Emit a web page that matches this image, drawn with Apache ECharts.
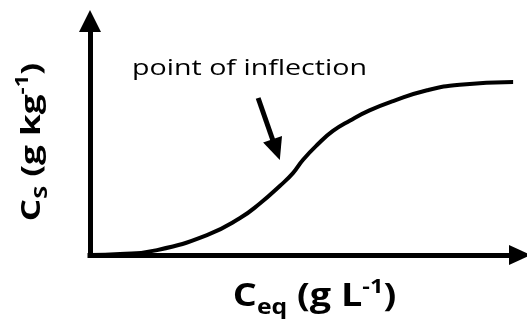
<!DOCTYPE html>
<html>
<head>
<meta charset="utf-8">
<script src="https://cdn.jsdelivr.net/npm/echarts@6/dist/echarts.min.js"></script>
<style>
  html, body { margin: 0; padding: 0; background: #fff; }
  #chart { width: 527px; height: 322px; }
</style>
</head>
<body>
<div id="chart"></div>
<script>
// Sigmoidal sorption isotherm (arbitrary units, 0-100 on both axes)
const ceqValues = [0, 7, 15.6, 27.2, 34.9, 39.5, 44.2, 47.2, 49.5, 52.8, 56.5, 60.5, 65.0, 70.5, 78.4, 86.0, 98.4];
const csValues  = [0, 0.4, 2.1, 8.5, 15.8, 22.0, 29.6, 35.0, 40.6, 47.0, 53.0, 57.5, 61.8, 65.8, 70.4, 72.8, 73.9];

// Annotation arrow pointing at the inflection (tail, head centre)
const arrowTail = [39.1, 67.1];
const arrowHead = [43.3, 45.0];
const annotationText = 'point of inflection';
const xTitle = '{b|C}{sub|eq}{b| (g L}{sup|-1}{b|)}';
const yTitle = '{b|C}{sub|S}{b| (g kg}{sup|-1}{b|)}';

const curve = ceqValues.map((x, i) => [x, csValues[i]]);

const FONT = '"Open Sans", "Noto Sans", sans-serif';
const axisLine = (size) => ({
  show: true,
  symbol: ['none', 'triangle'],
  symbolSize: size,
  lineStyle: { color: '#000', width: 5, cap: 'square' }
});
const titleRich = (size) => ({
  b:   { fontFamily: FONT, fontWeight: 'bold', fontSize: size, fill: '#000', color: '#000', verticalAlign: 'top', padding: [4, 0, 0, 0] },
  sub: { fontFamily: FONT, fontWeight: 'bold', fontSize: Math.round(size * 0.66), fill: '#000', color: '#000', verticalAlign: 'top', padding: [Math.round(size * 0.66), 0, 0, 0] },
  sup: { fontFamily: FONT, fontWeight: 'bold', fontSize: Math.round(size * 0.62), fill: '#000', color: '#000', verticalAlign: 'top', padding: [0, 0, 0, 0] }
});

const chart = echarts.init(document.getElementById('chart'), null, { renderer: 'canvas' });
chart.setOption({
  animation: false,
  backgroundColor: '#fff',
  grid: { left: 90, right: 7, top: 21, bottom: 67, outerBoundsMode: 'none' },
  xAxis: {
    type: 'value', min: 0, max: 100,
    axisLine: axisLine([20, 22]),
    axisTick: { show: false }, axisLabel: { show: false }, splitLine: { show: false }
  },
  yAxis: {
    type: 'value', min: 0, max: 100,
    axisLine: axisLine([22, 22]),
    axisTick: { show: false }, axisLabel: { show: false }, splitLine: { show: false }
  },
  series: [{
    type: 'line',
    data: curve,
    smooth: 0.5,
    showSymbol: false,
    lineStyle: { color: '#000', width: 4 },
    markLine: {
      silent: true,
      symbol: ['none', 'triangle'],
      symbolSize: [20, 22],
      label: { show: false },
      lineStyle: { color: '#000', width: 5, type: 'solid' },
      data: [[{ coord: arrowTail }, { coord: arrowHead }]]
    }
  }],
  graphic: [
    {
      type: 'text',
      x: 249.5, y: 69, scaleX: 1.3,
      style: { text: annotationText, font: '22px ' + FONT, fill: '#000', align: 'center', verticalAlign: 'middle' }
    },
    {
      type: 'text',
      x: 314.5, y: 298, scaleX: 1.18,
      style: { text: xTitle, rich: titleRich(32), align: 'center', verticalAlign: 'middle' }
    },
    {
      type: 'text',
      x: 33, y: 142, rotation: Math.PI / 2, scaleX: 1.3,
      style: { text: yTitle, rich: titleRich(27), align: 'center', verticalAlign: 'middle' }
    }
  ]
});
</script>
</body>
</html>
